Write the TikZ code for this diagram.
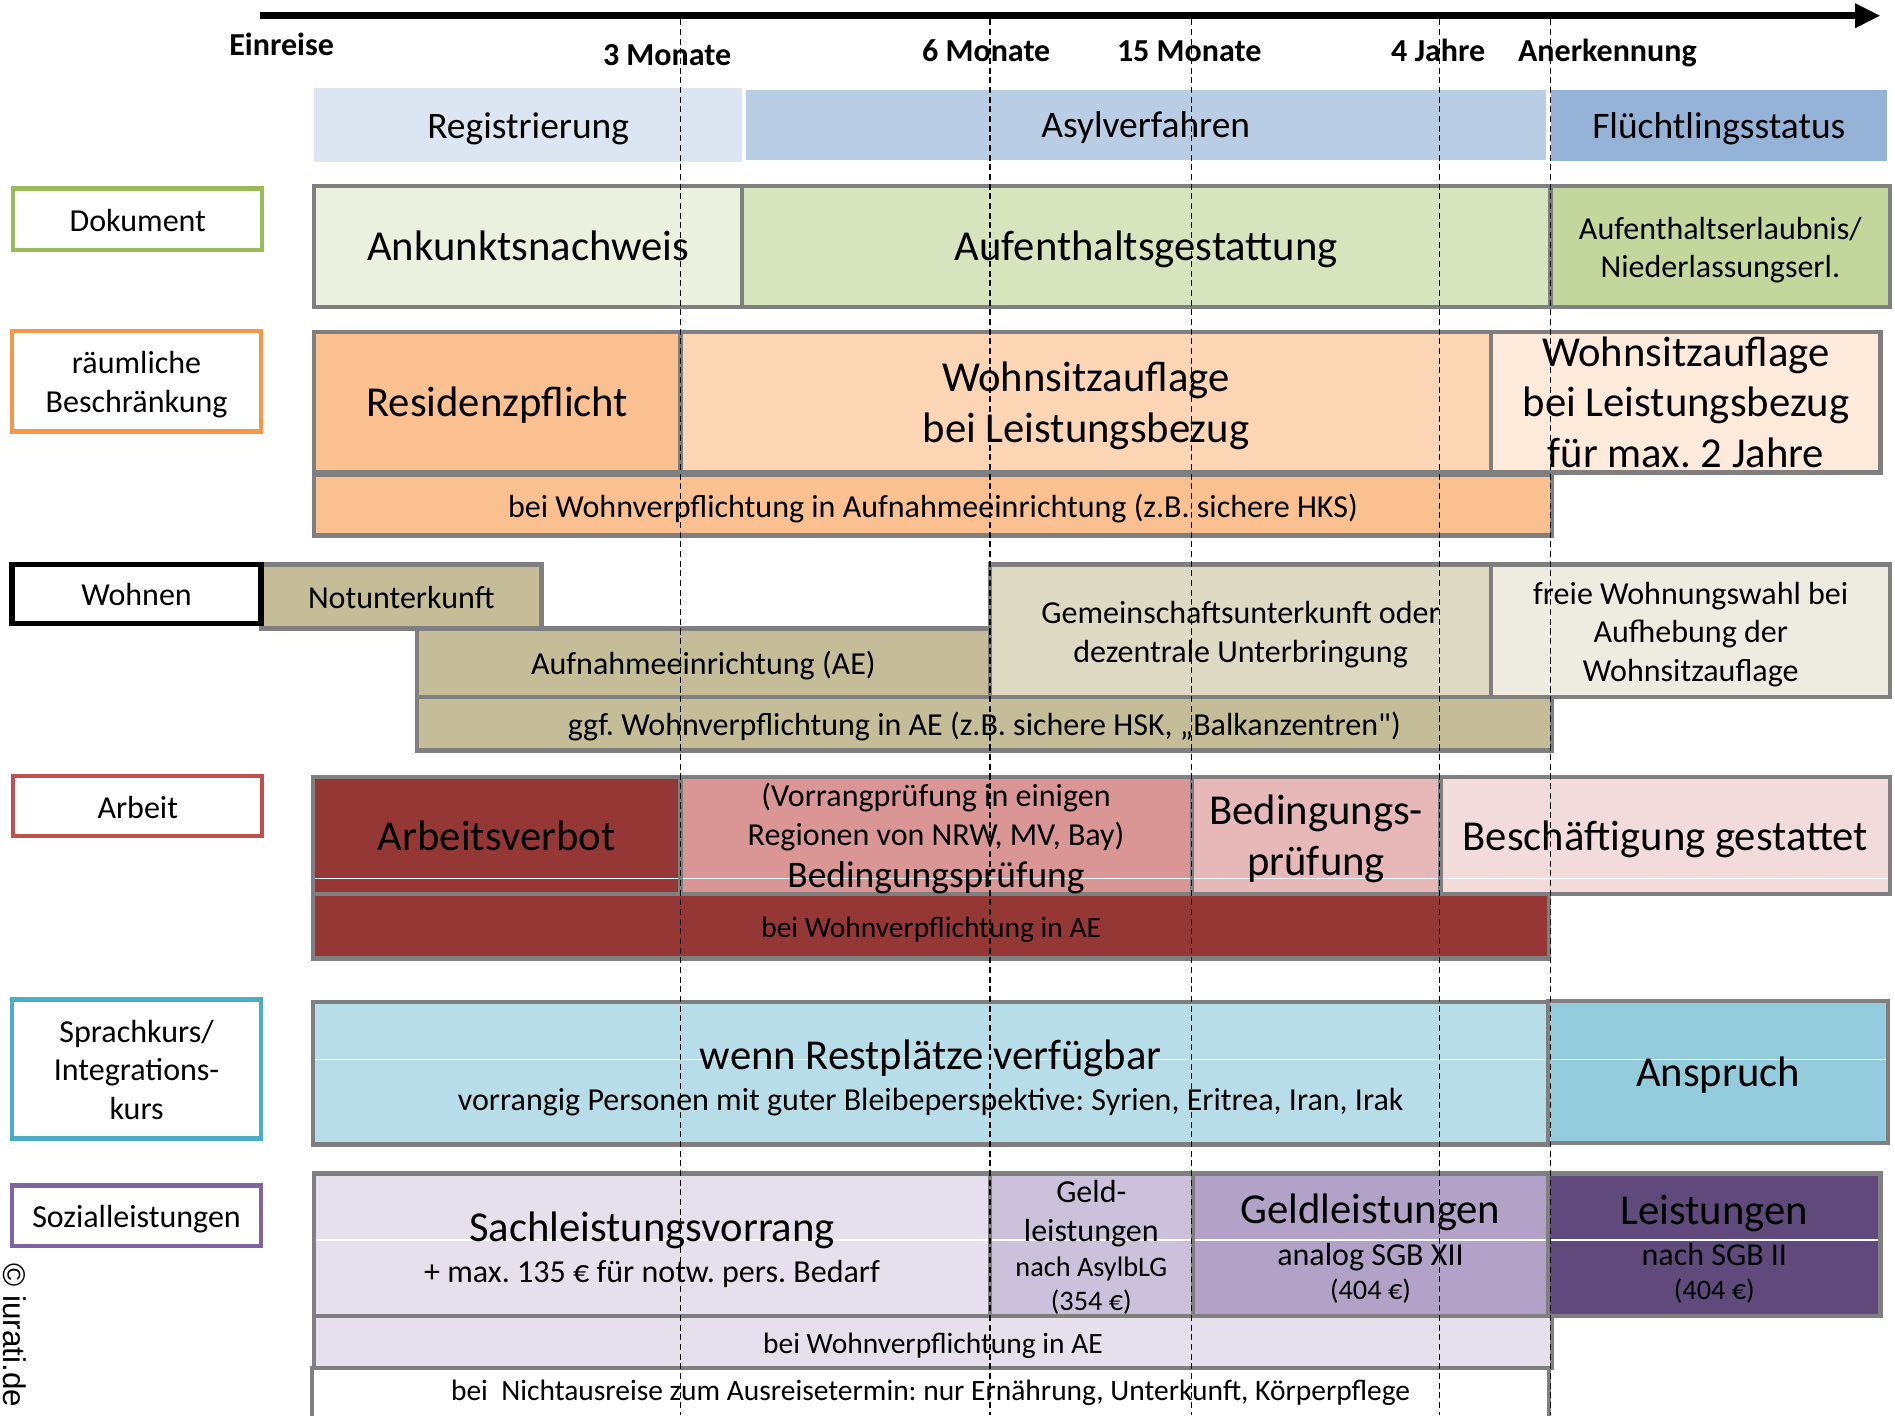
\documentclass[tikz,border=0pt]{standalone}
\usepackage{fontspec}
\setmainfont{Carlito}
\newfontfamily\plainfont{Carlito}
\newfontfamily\copyfont{Liberation Sans}
\usetikzlibrary{arrows.meta}
\frenchspacing

% fill colours of the rows
\definecolor{cReg}{HTML}{DCE6F2}
\definecolor{cAsyl}{HTML}{B9CDE5}
\definecolor{cFlu}{HTML}{95B3D7}
\definecolor{cAnk}{HTML}{EBF1DE}
\definecolor{cGest}{HTML}{D7E4BD}
\definecolor{cErl}{HTML}{C3D69B}
\definecolor{cRes}{HTML}{FAC090}
\definecolor{cWsa}{HTML}{FCD5B5}
\definecolor{cWsb}{HTML}{FDEADA}
\definecolor{cKhaki}{HTML}{C4BD97}
\definecolor{cGU}{HTML}{DDD9C3}
\definecolor{cFrei}{HTML}{EEECE1}
\definecolor{cVerb}{HTML}{953735}
\definecolor{cVor}{HTML}{D99694}
\definecolor{cBed}{HTML}{E6B9B8}
\definecolor{cBesch}{HTML}{F2DCDB}
\definecolor{cRest}{HTML}{B7DEE8}
\definecolor{cAnsp}{HTML}{93CDDD}
\definecolor{cSach}{HTML}{E6E0EC}
\definecolor{cGeld}{HTML}{CCC1DA}
\definecolor{cGeldl}{HTML}{B3A2C7}
\definecolor{cLeist}{HTML}{604A7B}
\definecolor{cLine}{HTML}{7F7F7F}
% frame colours of the row titles
\definecolor{tDok}{HTML}{9BBB59}
\definecolor{tRaum}{HTML}{F79646}
\definecolor{tArb}{HTML}{C0504D}
\definecolor{tSpr}{HTML}{4BACC6}
\definecolor{tSoz}{HTML}{8064A2}

% type sizes
\newcommand\fL{\fontsize{35.3}{42}\selectfont}
\newcommand\fP{\fontsize{31}{37}\selectfont}
\newcommand\fM{\fontsize{26.5}{32}\selectfont}
\newcommand\fS{\fontsize{24.4}{29}\selectfont}
\newcommand\fX{\fontsize{23.4}{28}\selectfont}
\newcommand\fB{\bfseries\fontsize{26.5}{32}\selectfont}
% strut for the first line of a box text: sets the text a little lower
\newcommand\fs{\rule{0pt}{\dimexpr0.7\baselineskip+7pt\relax}\strut}

% a box given by its corners: name, x1, y1, x2, y2, options, text
\newcommand\cellbox[7]{%
  \node[cell,#6,minimum width={#4pt-#2pt},minimum height={#5pt-#3pt}]
    (#1) at ({(#2+#4)/2},{(#3+#5)/2}) {#7};}

\begin{document}
\begin{tikzpicture}[x=1pt,y=-1pt,
  cell/.style={rectangle,draw=cLine,line width=3.5pt,inner sep=0pt,align=center},
  phase/.style={draw=none,font=\fP},
  tag/.style={fill=white,line width=3.5pt,font=\fM},
  txt/.style={anchor=base,inner sep=0pt,align=center},
  tick/.style={inner sep=0pt,font=\fB},
  % thin light line inside a box, #1 below its top edge
  sheen/.style={path picture={\draw[white,line width=0.9pt]
      ([yshift=-#1]path picture bounding box.north west) --
      ([yshift=-#1]path picture bounding box.north east);}},
  grid/.style={black,line width=1.2pt,dash pattern=on 5pt off 3pt}]
\useasboundingbox (0,0) rectangle (1568,1171);

% time axis
\coordinate (axs) at (215,13);
\coordinate (axe) at (1556,13);
\draw[line width=6pt,-{Triangle[length=21pt,width=19pt]}] (axs) -- (axe);
\node[tick] (t0) at (233,39.5) {\strut Einreise};
\node[tick] (t1) at (552,47.5) {\strut 3 Monate};
\node[tick] (t2) at (816,44.5) {\strut 6 Monate};
\node[tick] (t3) at (984,44.5) {\strut 15 Monate};
\node[tick] (t4) at (1190,44.5) {\strut 4 Jahre};
\node[tick] (t5) at (1330,44.5) {\strut Anerkennung};

% phases
\cellbox{reg}{260}{73}{614}{134}{phase,fill=cReg}{\fs Registrierung}
\cellbox{asyl}{617}{74.5}{1279}{132}{phase,fill=cAsyl}{\fs Asylverfahren}
\cellbox{flu}{1283}{74.5}{1561.5}{133}{phase,fill=cFlu}{\fs Flüchtlingsstatus}

% Dokument
\cellbox{ank}{260}{154}{614}{254}{fill=cAnk,font=\fL}{\fs Ankunktsnachweis}
\cellbox{gest}{614}{154}{1283}{254}{fill=cGest,font=\fL}{\fs Aufenthaltsgestattung}
\cellbox{erl}{1283}{154}{1564}{254}{fill=cErl,font=\fM}{\fs Aufenthaltserlaubnis/\\\strut Niederlassungserl.}

% raeumliche Beschraenkung
\cellbox{res}{260}{275}{563}{391}{fill=cRes,font=\fL}{\fs Residenzpflicht}
\cellbox{wsa}{563}{275}{1234}{391}{fill=cWsa,font=\fL}{\fs Wohnsitzauflage\\\strut bei Leistungsbezug}
\cellbox{wsb}{1234}{275}{1556}{391}{fill=cWsb}{}
\node[inner sep=0pt,align=center,font=\fL] (wsbt) at (wsb.center)
  {\fs Wohnsitzauflage\\\strut bei Leistungsbezug\\\strut für max. 2 Jahre};
\cellbox{resae}{260}{393}{1284}{443}{fill=cRes,font=\fM}{\fs bei Wohnverpflichtung in Aufnahmeeinrichtung (z.B. sichere HKS)}

% Wohnen
\cellbox{not}{216}{467}{448}{520}{fill=cKhaki,font=\fM}{\fs Notunterkunft}
\cellbox{ae}{345}{520}{819}{577}{fill=cKhaki,font=\fM}{\fs Aufnahmeeinrichtung (AE)}
\cellbox{gu}{819}{467}{1234}{577}{fill=cGU,font=\fM}{\fs Gemeinschaftsunterkunft oder\\\strut dezentrale Unterbringung}
\cellbox{frei}{1234}{467}{1564}{577}{fill=cFrei,font=\fM}{\fs freie Wohnungswahl bei\\\strut Aufhebung der\\\strut Wohnsitzauflage}
\cellbox{ggf}{345}{577}{1284}{621}{fill=cKhaki,font=\fM}{\fs ggf. Wohnverpflichtung in AE (z.B. sichere HSK, „Balkanzentren{\plainfont"})}

% Arbeit
\cellbox{verb}{259}{643}{563}{740}{fill=cVerb,sheen=84pt,font=\fL}{\fs Arbeitsverbot}
\cellbox{vor}{563}{643}{986}{740}{fill=cVor,sheen=84pt}{}
\cellbox{bed}{986}{643}{1192}{740}{fill=cBed,sheen=84pt,font=\fL}{\fs Bedingungs-\\\strut prüfung}
\cellbox{besch}{1192}{643}{1564}{740}{fill=cBesch,sheen=84pt,font=\fL}{\fs Beschäftigung gestattet}
\cellbox{arbae}{259}{740}{1282}{793}{fill=cVerb,font=\fS}{\fs bei Wohnverpflichtung in AE}
\node[txt,font=\fM] (vor1) at ([yshift=-26pt]vor.north) {(Vorrangprüfung in einigen};
\node[txt,font=\fM] (vor2) at ([yshift=-58pt]vor.north) {Regionen von NRW, MV, Bay)};
\node[txt,font=\fP] (vor3) at ([yshift=-93.5pt]vor.north) {Bedingungsprüfung};

% Sprachkurs
\cellbox{rest}{259}{829}{1281}{947}{fill=cRest,sheen=48pt}{}
\cellbox{ansp}{1281}{828}{1562}{946}{fill=cAnsp,sheen=49pt,font=\fL}{\fs Anspruch}
\node[txt,font=\fL] (rest1) at ([yshift=-58pt]rest.north) {wenn Restplätze verfügbar};
\node[txt,font=\fM] (rest2) at ([yshift=-92pt]rest.north) {vorrangig Personen mit guter Bleibeperspektive: Syrien, Eritrea, Iran, Irak};

% Sozialleistungen
\cellbox{sach}{260}{971}{819}{1089}{fill=cSach,sheen=55pt}{}
\cellbox{geld}{819}{971}{987}{1089}{fill=cGeld,sheen=55pt}{}
\cellbox{geldl}{987}{971}{1281}{1089}{fill=cGeldl,sheen=55pt}{}
\cellbox{leist}{1281}{971}{1556}{1089}{fill=cLeist,sheen=55pt}{}
\cellbox{sozae}{260}{1089}{1284}{1132}{fill=cSach,font=\fS}{\fs bei Wohnverpflichtung in AE}
\cellbox{nicht}{258}{1132}{1282}{1174}{fill=white,font=\fS}{\strut bei\ \ Nichtausreise zum Ausreisetermin: nur Ernährung, Unterkunft, Körperpflege}
\node[txt,font=\fL] (sach1) at ([yshift=-58pt]sach.north) {Sachleistungsvorrang};
\node[txt,font=\fM] (sach2) at ([yshift=-92pt]sach.north) {+ max. 135 € für notw. pers. Bedarf};
\node[txt,font=\fM] (geld1) at ([yshift=-26pt]geld.north) {Geld-};
\node[txt,font=\fM] (geld2) at ([yshift=-58pt]geld.north) {leistungen};
\node[txt,font=\fX] (geld3) at ([yshift=-87pt]geld.north) {nach AsylbLG};
\node[txt,font=\fX] (geld4) at ([yshift=-115pt]geld.north) {(354 €)};
\node[txt,font=\fL] (geldl1) at ([yshift=-43pt]geldl.north) {Geldleistungen};
\node[txt,font=\fM] (geldl2) at ([yshift=-78pt]geldl.north) {analog SGB XII};
\node[txt,font=\fX] (geldl3) at ([yshift=-106pt]geldl.north) {(404 €)};
\node[txt,font=\fL] (leist1) at ([yshift=-44pt]leist.north) {Leistungen};
\node[txt,font=\fM] (leist2) at ([yshift=-78pt]leist.north) {nach SGB II};
\node[txt,font=\fX] (leist3) at ([yshift=-106pt]leist.north) {(404 €)};

% row titles
\cellbox{dok}{11}{156}{217}{207}{tag,draw=tDok}{\fs Dokument}
\cellbox{raum}{10}{274}{216}{357}{tag,draw=tRaum}{\fs räumliche\\\strut Beschränkung}
\cellbox{wohn}{10}{467}{216}{516}{tag,draw=black,line width=4.5pt}{\fs Wohnen}
\cellbox{arb}{11}{642}{217}{692}{tag,draw=tArb}{\fs Arbeit}
\cellbox{spr}{10}{827}{216}{942}{tag,draw=tSpr}{\fs Sprachkurs/\\\strut Integrations-\\\strut kurs}
\cellbox{soz}{10}{981}{216}{1031}{tag,draw=tSoz}{\fs Sozialleistungen}

% time marks
\foreach \x in {563,819,986,1191,1283} \draw[grid] (\x,16) -- (\x,1171);

% copyright
\node[rotate=-90,inner sep=0pt,font=\copyfont\fontsize{26}{31}\selectfont] (copy) at (12.5,1105) {© iurati.de};
\end{tikzpicture}
\end{document}
